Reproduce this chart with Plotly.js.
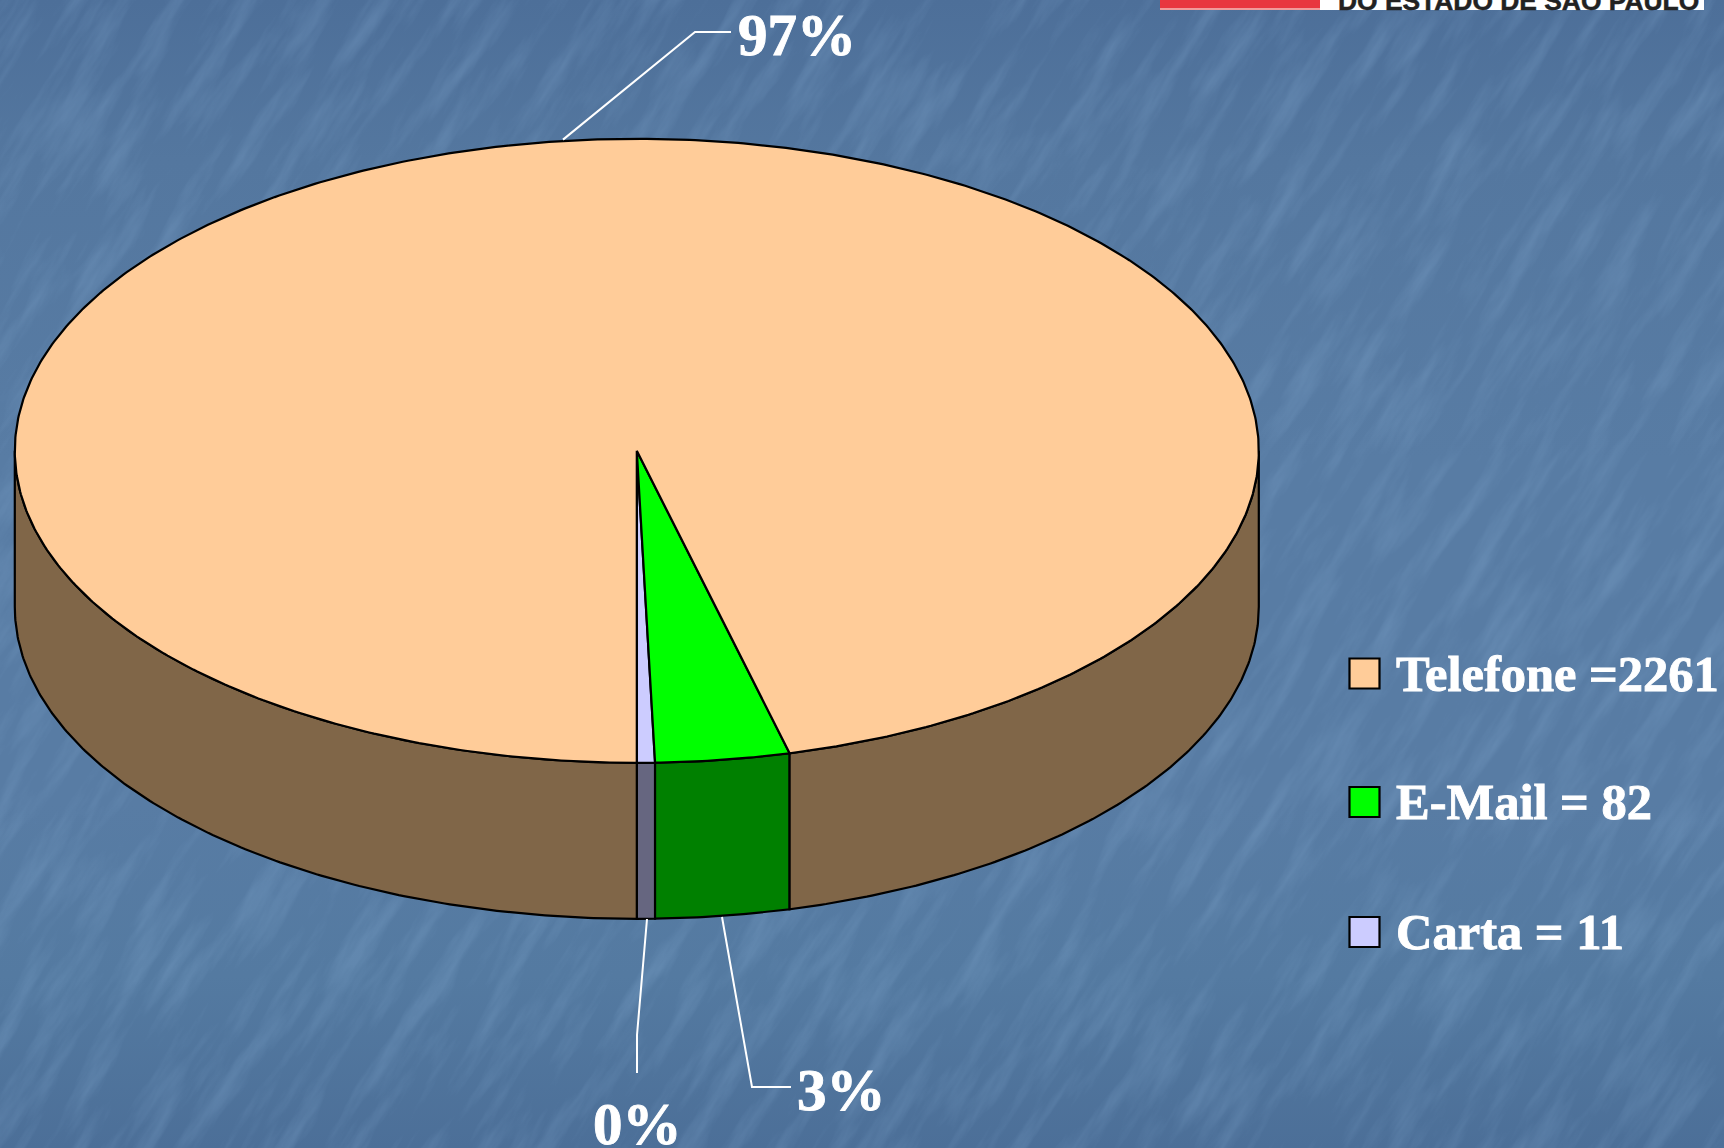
<!DOCTYPE html>
<html>
<head>
<meta charset="utf-8">
<script src="https://cdn.plot.ly/plotly-3.0.1.min.js"></script>
<style>
html,body{margin:0;padding:0;width:1724px;height:1148px;overflow:hidden;background:#54779f}
#bg{position:absolute;left:0;top:0;width:1724px;height:1148px;background:linear-gradient(180deg,#4d6f99 0%,#54779f 14%,#587ca4 40%,#587ca4 70%,#547aa1 85%,#4c6f98 100%)}
#tex{position:absolute;left:0;top:0}
#chart{position:absolute;left:0;top:0;width:1724px;height:1148px}
#chart .annotation-text{stroke:#fff;stroke-width:0.9px}
#chart .annotation[data-index="6"] .annotation-text{stroke:#222;stroke-width:0.5px}
</style>
</head>
<body>
<div id="bg"></div>
<svg id="tex" width="1724" height="1148" xmlns="http://www.w3.org/2000/svg">
  <defs>
    <filter id="streak" filterUnits="userSpaceOnUse" x="-1000" y="-1000" width="3800" height="3200" color-interpolation-filters="sRGB">
      <feTurbulence type="fractalNoise" baseFrequency="0.009 0.05" numOctaves="5" seed="11"/>
      <feColorMatrix type="matrix" values="0 0 0 0 0.55  0 0 0 0 0.70  0 0 0 0 0.85  2.4 0 0 0 -1.05"/>
    </filter>
  </defs>
  <g transform="rotate(-58 862 574)">
    <rect x="-1000" y="-1000" width="3800" height="3200" filter="url(#streak)" opacity="0.24"/>
  </g>
</svg>
<div id="chart"></div>
<script>
// ---- data ----
const categories   = ["Carta", "E-Mail", "Telefone"];
const values       = [11, 82, 2261];
const topColors    = ["#CCCCFF", "#00FF00", "#FFCC99"];
const sideColors   = ["#666680", "#008000", "#806648"];
const percentTexts = ["0%", "3%", "97%"];
const legendTexts  = {Telefone: "Telefone =2261", "E-Mail": "E-Mail = 82", Carta: "Carta = 11"};
const legendOrder  = ["Telefone", "E-Mail", "Carta"];

// ---- layout of the drawing, in axis units (axes map 1:1 to the page) ----
const cx = 636.8, cy = 450.8, rx = 622, ry = 312, depth = 156;
const legendX = 1364.5, legendYs = [673.5, 802, 932], legendTextX = 1396;
const percentPos = {"97%": [797, 35], "3%": [841, 1090], "0%": [637, 1124]};
const leaders = [
  [[563, 695, 731], [139.6, 32, 32]],
  [[722, 752, 791], [917, 1087, 1087]],
  [[647, 637, 637], [919, 1035, 1073]]
];

const total = values.reduce((a, b) => a + b, 0);
const arc = (a, b, dy) => {
  const n = Math.max(2, Math.ceil((b - a) / 0.5));
  const xs = [], ys = [];
  for (let i = 0; i <= n; i++) {
    const t = (a + (b - a) * i / n) * Math.PI / 180;
    xs.push(cx + rx * Math.sin(t));
    ys.push(cy + ry * Math.cos(t) + dy);
  }
  return [xs, ys];
};

// slice start/end angles, measured from the front of the pie going right
let acc = 0;
const slices = values.map((v, i) => {
  const a = acc / total * 360; acc += v;
  return {name: categories[i], a, b: acc / total * 360, top: topColors[i], side: sideColors[i]};
});

const traces = [];
// side walls: the part of each slice lying on the visible (front) half
slices.forEach(s => {
  const xs = [], ys = [];
  [[-90, 90], [270, 450]].forEach(([lo, hi]) => {
    const a = Math.max(s.a, lo), b = Math.min(s.b, hi);
    if (b <= a) return;
    const [x1, y1] = arc(a, b, 0), [x2, y2] = arc(a, b, depth);
    if (xs.length) { xs.push(null); ys.push(null); }
    xs.push(...x1, ...x2.reverse(), x1[0]);
    ys.push(...y1, ...y2.reverse(), y1[0]);
  });
  traces.push({type: "scatter", mode: "lines", x: xs, y: ys, fill: "toself", fillcolor: s.side,
    line: {color: "#000", width: 2.2}, hoverinfo: "skip", showlegend: false});
});
// top faces
slices.forEach(s => {
  const [x, y] = arc(s.a, s.b, 0);
  traces.push({type: "scatter", mode: "lines", name: s.name,
    x: [cx, ...x, cx], y: [cy, ...y, cy], fill: "toself", fillcolor: s.top,
    line: {color: "#000", width: 2.2}, hoverinfo: "skip", showlegend: false});
});
// leader lines
leaders.forEach(([x, y]) => traces.push({type: "scatter", mode: "lines", x, y,
  line: {color: "#fff", width: 2}, hoverinfo: "skip", showlegend: false}));
// legend swatches
traces.push({type: "scatter", mode: "markers",
  x: legendOrder.map(() => legendX), y: legendYs,
  marker: {symbol: "square", size: 30, color: legendOrder.map(n => topColors[categories.indexOf(n)]),
           line: {color: "#000", width: 2.2}},
  hoverinfo: "skip", showlegend: false});

const serif = "'Liberation Serif','Times New Roman',serif";
const annotations = [];
percentTexts.forEach(t => annotations.push({x: percentPos[t][0], y: percentPos[t][1], text: "<b>" + t + "</b>",
  showarrow: false, xanchor: "center", yanchor: "middle", font: {family: serif, size: 59, color: "#fff"}}));
legendOrder.forEach((n, i) => annotations.push({x: legendTextX, y: legendYs[i], text: "<b>" + legendTexts[n] + "</b>",
  showarrow: false, xanchor: "left", yanchor: "middle", xshift: -2, font: {family: serif, size: 50.5, color: "#fff"}}));
annotations.push({x: 1337, y: 17, text: "<b>DO ESTADO DE SÃO PAULO</b>", showarrow: false, xanchor: "left", yanchor: "bottom",
  borderpad: 0, font: {family: "'Liberation Sans',Arial,sans-serif", size: 26.4, color: "#222"}});

const layout = {
  width: 1724, height: 1148, margin: {l: 0, r: 0, t: 0, b: 0, pad: 0},
  paper_bgcolor: "rgba(0,0,0,0)", plot_bgcolor: "rgba(0,0,0,0)", showlegend: false,
  xaxis: {range: [0, 1724], visible: false, fixedrange: true},
  yaxis: {range: [1148, 0], visible: false, fixedrange: true},
  shapes: [
    {type: "rect", layer: "below", x0: 1160, x1: 1320, y0: 0, y1: 8, fillcolor: "#E8363F", line: {width: 0}},
    {type: "rect", layer: "below", x0: 1160, x1: 1320, y0: 8, y1: 10, fillcolor: "#F09A9A", line: {width: 0}},
    {type: "rect", layer: "below", x0: 1320, x1: 1704, y0: 0, y1: 10, fillcolor: "#FFFFFF", line: {width: 0}}
  ],
  annotations
};
Plotly.newPlot("chart", traces, layout, {displayModeBar: false, staticPlot: true});
</script>
</body>
</html>
